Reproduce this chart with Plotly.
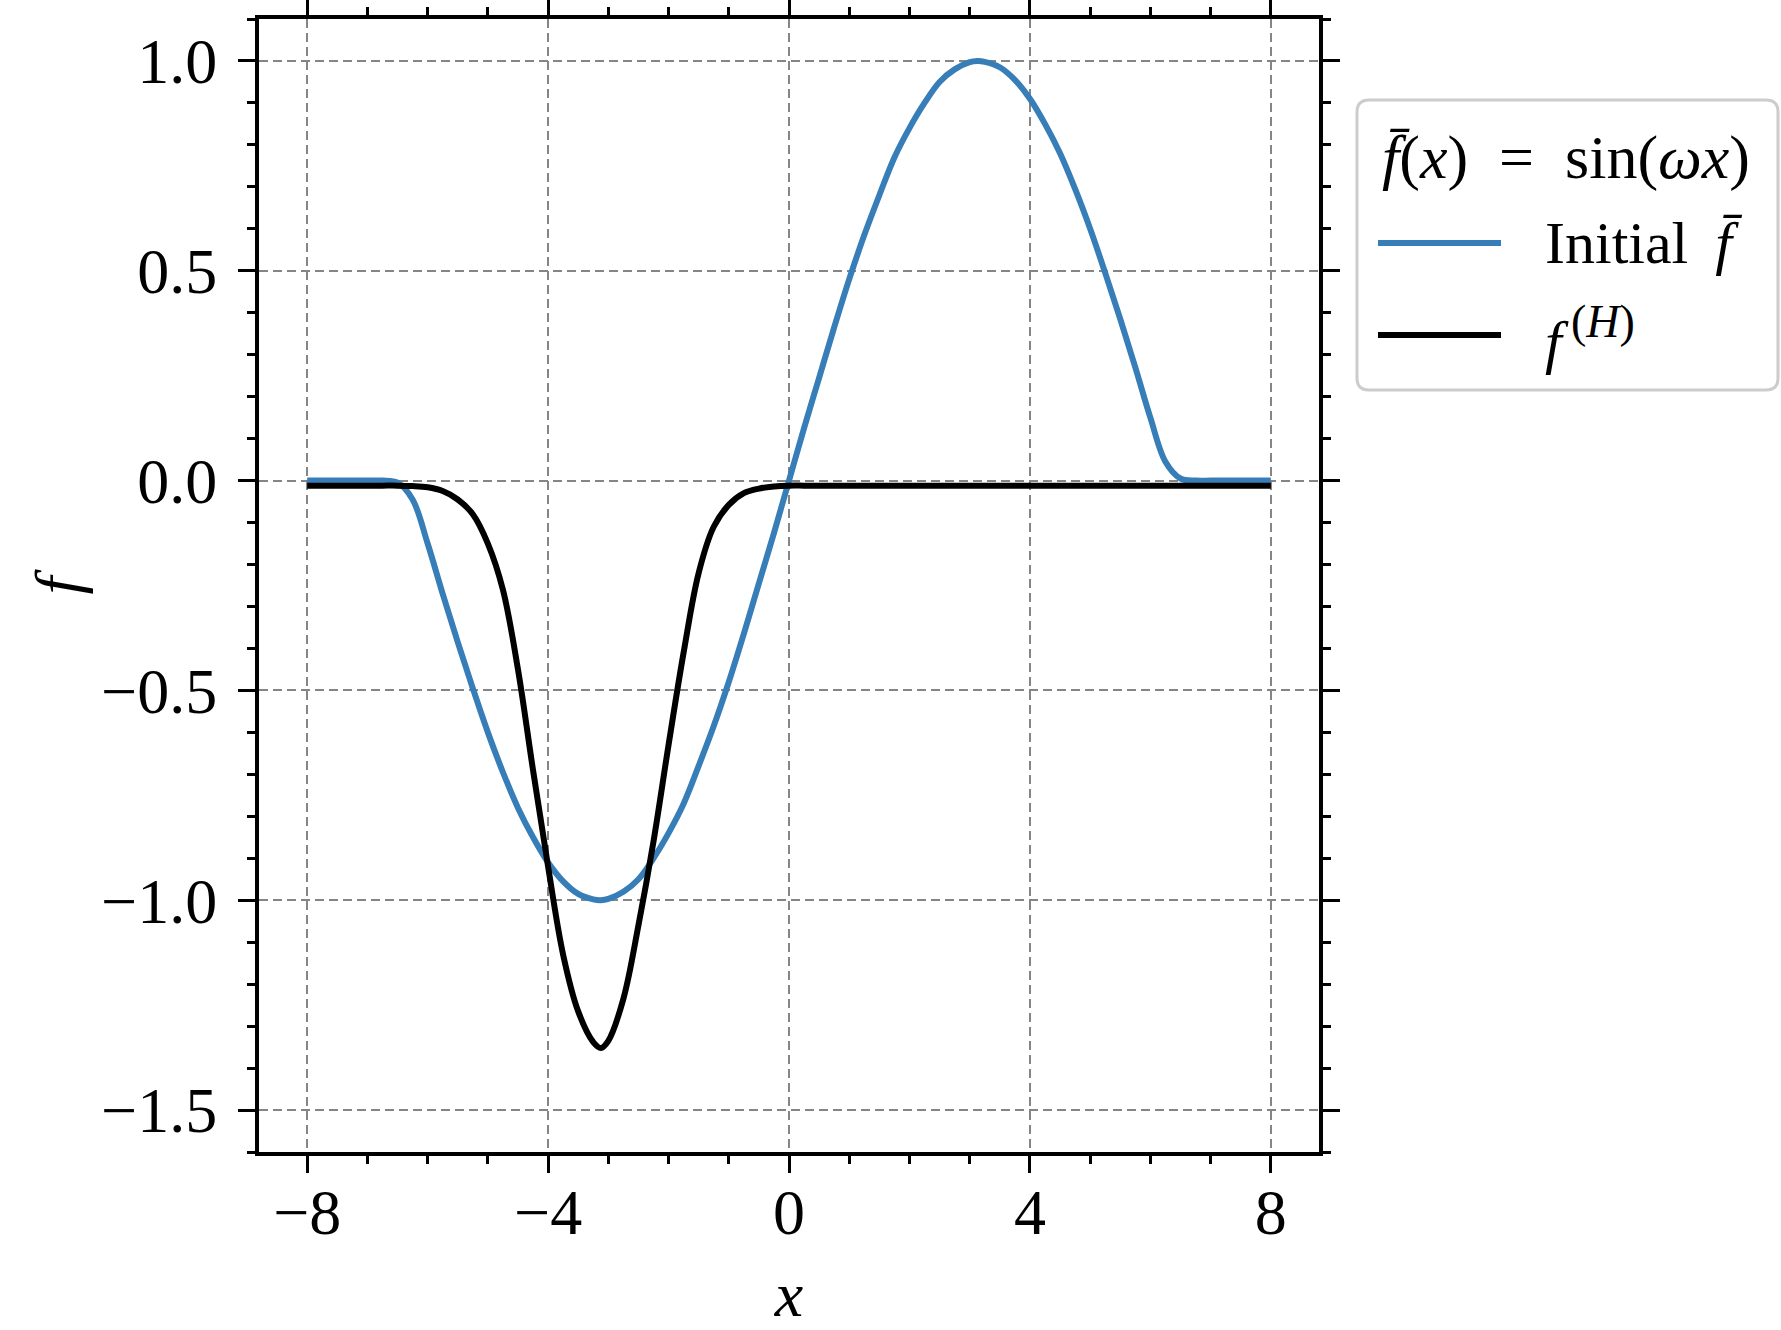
import plotly.graph_objects as go

# ---- data ----
x_vals = [-8, -7.75, -7.5, -7.25, -7, -6.75, -6.5, -6.25, -6, -5.75, -5.5, -5.25, -5,
          -4.75, -4.5, -4.25, -4, -3.75, -3.5, -3.25, -3.125, -3, -2.75, -2.5, -2.25, -2,
          -1.75, -1.5, -1.25, -1, -0.75, -0.5, -0.25, 0, 0.25, 0.5, 0.75, 1, 1.25,
          1.5, 1.75, 2, 2.25, 2.5, 2.75, 3, 3.125, 3.25, 3.5, 3.75, 4, 4.25, 4.5, 4.75, 5,
          5.25, 5.5, 5.75, 6, 6.25, 6.5, 6.75, 7, 7.25, 7.5, 7.75, 8]

initial_f = [0.0, 0.0, 0.0, 0.0, 0.0, 0.0, -0.005, -0.045, -0.15, -0.27, -0.385, -0.495,
             -0.6, -0.695, -0.78, -0.85, -0.91, -0.955, -0.985, -0.998, -1.0, -0.997, -0.98,
             -0.95, -0.9, -0.84, -0.77, -0.68, -0.585, -0.48, -0.365, -0.245, -0.125,
             0.0, 0.125, 0.245, 0.365, 0.48, 0.585, 0.68, 0.77, 0.84, 0.9, 0.95, 0.98,
             0.997, 1.0, 0.998, 0.985, 0.955, 0.91, 0.85, 0.78, 0.695, 0.6, 0.495, 0.385,
             0.27, 0.15, 0.045, 0.005, 0.0, 0.0, 0.0, 0.0, 0.0, 0.0]

f_H = [-0.012, -0.012, -0.012, -0.012, -0.012, -0.012, -0.012, -0.013, -0.016, -0.025,
       -0.045, -0.08, -0.15, -0.26, -0.45, -0.69, -0.92, -1.13, -1.265, -1.338, -1.352,
       -1.335, -1.235, -1.06, -0.86, -0.63, -0.41, -0.22, -0.11, -0.058, -0.03, -0.019,
       -0.014, -0.012, -0.012, -0.012, -0.012, -0.012, -0.012, -0.012, -0.012, -0.012,
       -0.012, -0.012, -0.012, -0.012, -0.012, -0.012, -0.012, -0.012, -0.012, -0.012,
       -0.012, -0.012, -0.012, -0.012, -0.012, -0.012, -0.012, -0.012, -0.012, -0.012,
       -0.012, -0.012, -0.012, -0.012, -0.012]

legend_title = "<i>f\u0304</i>(<i>x</i>)\u2002=\u2002sin(<i>\u03c9x</i>)"
series_names = ["Initial\u2009 <i>f\u0304</i>",
                "<i>f</i><sup><span style='font-size:46px'>\u2009(<i>H</i>)</span></sup>"]
series_colors = ["#377eb8", "#000000"]

FONT = "Liberation Serif"

# plot area in pixels
L, R, T, B = 259, 1319, 19, 1152
W, H = R - L, B - T


def px_x(p):
    return (p - L) / W


def px_y(p):
    return (B - p) / H


fig = go.Figure()
for yv, name, col in zip([initial_f, f_H], series_names, series_colors):
    fig.add_trace(go.Scatter(x=x_vals, y=yv, mode="lines", name=name,
                             line=dict(color=col, width=6, shape="spline", smoothing=1.0),
                             showlegend=False))

axis_common = dict(
    showline=True, linecolor="black", linewidth=4, mirror="allticks",
    ticks="outside", ticklen=17, tickwidth=3, tickcolor="black",
    showgrid=True, gridcolor="#858585", gridwidth=1.6, griddash="9px,5px",
    zeroline=False,
    tickfont=dict(family=FONT, size=64, color="black"),
    title_font=dict(family=FONT, size=64, color="black"),
)

fig.update_xaxes(range=[-8.8, 8.8], tick0=0, dtick=4, ticklabelstandoff=-16,
                 minor=dict(dtick=1, tick0=0, ticks="outside", ticklen=8, tickwidth=2.5,
                            tickcolor="black", showgrid=False),
                 title=dict(text="<i>x</i>", standoff=34), **axis_common)
fig.update_yaxes(range=[-1.6, 1.1], tick0=0, dtick=0.5, tickformat=".1f", ticklabelstandoff=8,
                 minor=dict(dtick=0.1, tick0=0, ticks="outside", ticklen=8, tickwidth=2.5,
                            tickcolor="black", showgrid=False),
                 title=dict(text="<i>f</i>", standoff=2), **axis_common)

# ---- legend box drawn manually (rounded) ----
bx0, bx1, by0, by1, rr = 1357, 1778, 100, 390, 12
rx, ry = rr / W, rr / H
X0, X1, Y0, Y1 = px_x(bx0), px_x(bx1), px_y(by1), px_y(by0)
path = (f"M{X0+rx},{Y1} L{X1-rx},{Y1} Q{X1},{Y1} {X1},{Y1-ry} "
        f"L{X1},{Y0+ry} Q{X1},{Y0} {X1-rx},{Y0} L{X0+rx},{Y0} Q{X0},{Y0} {X0},{Y0+ry} "
        f"L{X0},{Y1-ry} Q{X0},{Y1} {X0+rx},{Y1} Z")
shapes = [dict(type="path", path=path, xref="paper", yref="paper",
               line=dict(color="#cccccc", width=3), fillcolor="white", layer="above")]
item_y = [243, 335]
for yy, col in zip(item_y, series_colors):
    shapes.append(dict(type="line", xref="paper", yref="paper",
                       x0=px_x(1378), x1=px_x(1501), y0=px_y(yy), y1=px_y(yy),
                       line=dict(color=col, width=6), layer="above"))

annotations = [dict(text=legend_title, xref="paper", yref="paper", x=px_x(1380), y=px_y(158),
                    xanchor="left", yanchor="middle", showarrow=False,
                    font=dict(family=FONT, size=62, color="black"))]
for yy, name in zip(item_y, series_names):
    annotations.append(dict(text=name, xref="paper", yref="paper", x=px_x(1543), y=px_y(yy),
                            xanchor="left", yanchor="middle", showarrow=False,
                            font=dict(family=FONT, size=60, color="black")))

fig.update_layout(width=1781, height=1330,
                  margin=dict(l=L, r=1781 - R, t=T, b=1330 - B, autoexpand=False),
                  plot_bgcolor="white", paper_bgcolor="white",
                  showlegend=False, shapes=shapes, annotations=annotations)

fig.write_html("out.html", config={"displayModeBar": False},
               post_script="document.body.style.margin='0';document.body.style.overflow='hidden';")
